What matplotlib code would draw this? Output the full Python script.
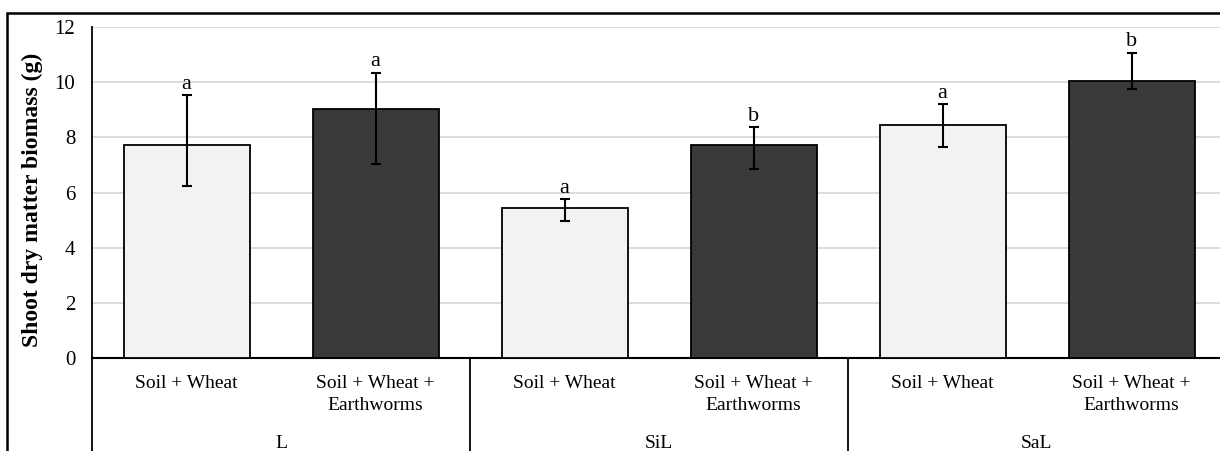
import numpy as np
import matplotlib
matplotlib.use('Agg')
import matplotlib.pyplot as plt
import matplotlib.transforms as mtransforms
from matplotlib.lines import Line2D
from matplotlib.patches import Rectangle

plt.rcParams['font.family'] = ['Liberation Serif', 'DejaVu Serif']

# data
soils = ['L', 'SiL', 'SaL']
treatments = ['Soil + Wheat', 'Soil + Wheat +\nEarthworms']
biomass = [7.71, 9.01, 5.42, 7.72, 8.43, 10.05]
err_upper = [9.53, 10.34, 5.76, 8.37, 9.20, 11.07]
err_lower = [6.24, 7.05, 4.97, 6.85, 7.64, 9.76]
letters = ['a', 'a', 'a', 'b', 'a', 'b']
yticks = [0, 2, 4, 6, 8, 10, 12]

W, H = 1220, 451
fig = plt.figure(figsize=(W / 100, H / 100), dpi=100)
# axes box in pixels: left 92, right 1226, top 27, zero line 358
ax = fig.add_axes([92 / W, 1 - 358 / H, (1226 - 92) / W, (358 - 27) / H])

x = np.arange(len(biomass))
colors = ['#F2F2F2', '#3A3838'] * 3
yerr = np.array([np.array(biomass) - np.array(err_lower),
                 np.array(err_upper) - np.array(biomass)])
ax.bar(x, biomass, width=2 / 3, color=colors, edgecolor='black',
       linewidth=1.3, zorder=3)
ax.errorbar(x, biomass, yerr=yerr, fmt='none', ecolor='black',
            elinewidth=1.5, capsize=3.5, capthick=1.5, zorder=4)

for xi, top, lt in zip(x, err_upper, letters):
    ax.annotate(lt, (xi, top), xytext=(0, 1), textcoords='offset points',
                ha='center', va='bottom', fontsize=16)

ax.set_xlim(-0.5, 5.5)
ax.set_ylim(0, 12)
ax.set_yticks(yticks)
ax.tick_params(axis='y', length=0, pad=12, labelsize=15)
ax.set_xticks([])
ax.yaxis.grid(True, color='#D9D9D9', linewidth=1.3, zorder=0)
for s in ['top', 'right']:
    ax.spines[s].set_visible(False)
ax.spines['left'].set_linewidth(1.3)
ax.spines['bottom'].set_linewidth(1.5)

fig.text(32 / W, 1 - 200 / H, 'Shoot dry matter biomass (g)', rotation=90,
         ha='center', va='center', fontsize=17, fontweight='bold')

# category axis below
trans = mtransforms.blended_transform_factory(ax.transData, fig.transFigure)
for i, xi in enumerate(x):
    ax.text(xi, 1 - 375 / H, treatments[i % 2], transform=trans,
            ha='center', va='top', fontsize=14, linespacing=1.4)
for g, soil in enumerate(soils):
    ax.text(2 * g + 0.5, 1 - 443 / H, soil, transform=trans,
            ha='center', va='center', fontsize=14)
for xb in [-0.5, 1.5, 3.5, 5.5]:
    ax.add_line(Line2D([xb, xb], [0, 1 - 358 / H], transform=trans,
                       color='black', linewidth=1.3, clip_on=False))

# outer chart border
fig.patches.append(Rectangle((7 / W, -0.05), 1.05, 1 - 13 / H + 0.05,
                             transform=fig.transFigure, fill=False,
                             edgecolor='black', linewidth=1.8))

fig.savefig('out.png', dpi=100)
